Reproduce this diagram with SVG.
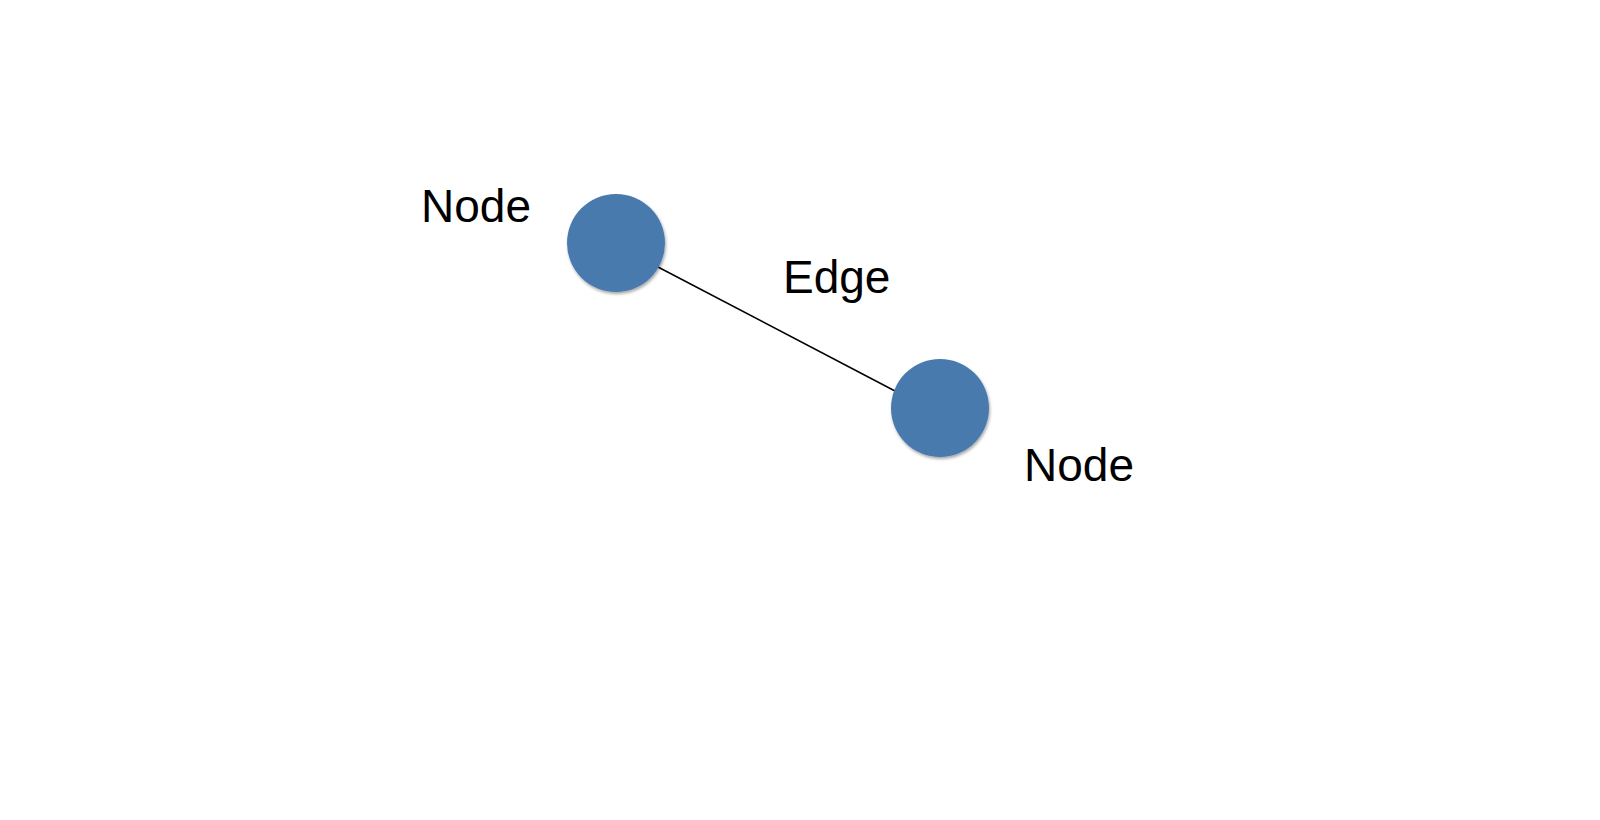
<svg xmlns="http://www.w3.org/2000/svg" width="1600" height="820" viewBox="0 0 1600 820">
<style>
.lbl{font-family:"Liberation Sans",Arial,sans-serif;font-size:46px;fill:#000}
.node{fill:#4a7aae;filter:url(#sh)}
</style>
<defs>
<filter id="sh" x="-20%" y="-20%" width="150%" height="150%">
<feDropShadow dx="1" dy="2" stdDeviation="1.5" flood-color="#000" flood-opacity="0.35"/>
</filter>
</defs>
<rect width="1600" height="820" fill="#fff"/>
<g id="connectors">
<line x1="658" y1="267" x2="895" y2="391" stroke="#000" stroke-width="1.5"/>
<text class="lbl" x="783" y="293">Edge</text>
</g>
<g id="node1">
<circle class="node" cx="616" cy="243" r="49"/>
<text class="lbl" x="421" y="222">Node</text>
</g>
<g id="node2">
<circle class="node" cx="940" cy="408" r="49"/>
<text class="lbl" x="1024" y="481">Node</text>
</g>
</svg>
